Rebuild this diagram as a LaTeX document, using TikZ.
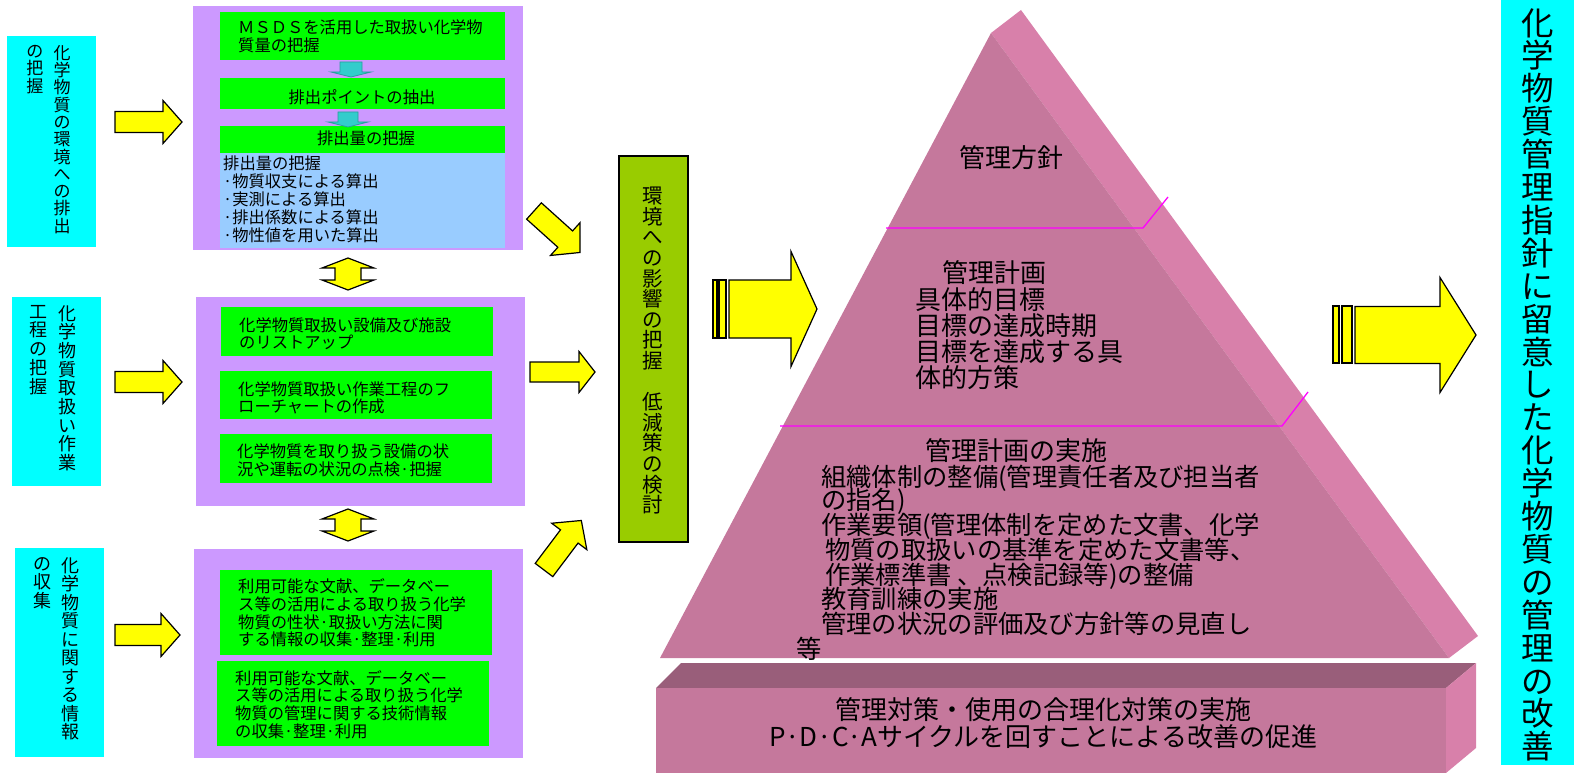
\documentclass[tikz,border=0pt]{standalone}
\usepackage{fontspec}
\setmainfont{Noto Sans CJK JP}
\definecolor{cyanbox}{HTML}{00FFFF}
\definecolor{purpbox}{HTML}{CC99FF}
\definecolor{greenbox}{HTML}{00FF00}
\definecolor{bluebox}{HTML}{99CCFF}
\definecolor{olivebox}{HTML}{99CC00}
\definecolor{tealarrow}{HTML}{33CCCC}
\definecolor{tealedge}{HTML}{2A9D9D}
\definecolor{pyrfront}{HTML}{C5789C}
\definecolor{pyrside}{HTML}{D880AA}
\definecolor{basetop}{HTML}{995E7A}
\definecolor{yelarrow}{HTML}{FFFF00}
\definecolor{magline}{HTML}{FF00FF}
\makeatletter
\newcommand\vtext[2]{\vbox{\baselineskip=#1\lineskiplimit=-\maxdimen\lineskip=0pt\relax\vt@loop#2\relax}}
\def\vt@loop#1{\ifx\relax#1\else\hbox to 1em{\hss#1\hss}\expandafter\vt@loop\fi}
\makeatother
\newcommand\blockarrow[8]{%
\begin{scope}[shift={(#2,#3)},rotate=#4]
\draw[#1] (0,-#6) -- ({#5-#8},-#6) -- ({#5-#8},-#7) -- (#5,0) -- ({#5-#8},#7) -- ({#5-#8},#6) -- (0,#6) -- cycle;
\end{scope}}
\tikzset{
  yarrow/.style={fill=yelarrow,draw=black,line width=1.2pt,line join=miter},
  tarrow/.style={fill=tealarrow,draw=tealedge,line width=0.8pt},
  boxfill/.style={inner sep=0pt,outer sep=0pt},
  gtext/.style={inner sep=0pt,align=left,font={\fontsize{16.3}{17.5}\selectfont}},
  ptext/.style={inner sep=0pt,align=left,font={\fontsize{26}{26.3}\selectfont\lineskiplimit=-100pt}},
  vt/.style={inner sep=0pt,anchor=north},
}
\begin{document}
\begin{tikzpicture}[x=1pt,y=-1pt]
\useasboundingbox (0,0) rectangle (1574,773);
% ---------- left cyan boxes
\node[boxfill,fill=cyanbox,minimum width=89pt,minimum height=211pt] (L1) at (51.5,141.5) {};
\node[boxfill,fill=cyanbox,minimum width=89pt,minimum height=189pt] (L2) at (56.5,391.5) {};
\node[boxfill,fill=cyanbox,minimum width=89pt,minimum height=209pt] (L3) at (59.5,652.5) {};
\node[vt,font={\fontsize{17}{17}\selectfont}] (L1a) at (62,45) {\vtext{17.3pt}{化学物質の環境への排出}};
\node[vt,font={\fontsize{17}{17}\selectfont}] (L1b) at (35,45) {\vtext{17.3pt}{の把握}};
\node[vt,font={\fontsize{18}{18}\selectfont}] (L2a) at (67,305) {\vtext{18.7pt}{化学物質取扱い作業}};
\node[vt,font={\fontsize{18}{18}\selectfont}] (L2b) at (38,305) {\vtext{18.7pt}{工程の把握}};
\node[vt,font={\fontsize{18}{18}\selectfont}] (L3a) at (70,557) {\vtext{18.5pt}{化学物質に関する情報}};
\node[vt,font={\fontsize{18}{18}\selectfont}] (L3b) at (42,557) {\vtext{18.5pt}{の収集}};
% left arrows
\blockarrow{yarrow}{115}{122}{0}{67}{10.5}{21.5}{19}
\blockarrow{yarrow}{115}{382}{0}{67}{10.5}{21.5}{19}
\blockarrow{yarrow}{115}{635}{0}{65}{10.5}{21.5}{19}
% ---------- purple boxes
\node[boxfill,fill=purpbox,minimum width=330pt,minimum height=244pt] (P1) at (358,128) {};
\node[boxfill,fill=purpbox,minimum width=329pt,minimum height=209pt] (P2) at (360.5,401.5) {};
\node[boxfill,fill=purpbox,minimum width=329pt,minimum height=209pt] (P3) at (358.5,653.5) {};
% P1 contents
\node[boxfill,fill=greenbox,minimum width=285pt,minimum height=48pt] (G1) at (362.5,36) {};
\node[boxfill,fill=greenbox,minimum width=285pt,minimum height=31pt] (G2) at (362.5,93.5) {};
\node[boxfill,fill=greenbox,minimum width=285pt,minimum height=27pt] (G3) at (362.5,139.5) {};
\node[boxfill,fill=bluebox,minimum width=285pt,minimum height=95pt] (B1) at (362.5,200.5) {};
\node[gtext,anchor=west] (G1t) at (238,36.5) {ＭＳＤＳを活用した取扱い化学物\\質量の把握};
\node[gtext] (G2t) at (362,97) {排出ポイントの抽出};
\node[gtext] (G3t) at (366,138.5) {排出量の把握};
\node[gtext,anchor=west,font={\fontsize{16.3}{18}\selectfont}] (B1t) at (223,199) {排出量の把握\\·物質収支による算出\\·実測による算出\\·排出係数による算出\\·物性値を用いた算出};
\blockarrow{tarrow}{351}{62}{-90}{15}{11}{20}{5}
\blockarrow{tarrow}{348}{112}{-90}{15}{10}{20}{5}
% P2 contents
\node[boxfill,fill=greenbox,minimum width=272pt,minimum height=49pt] (G4) at (357,331.5) {};
\node[boxfill,fill=greenbox,minimum width=272pt,minimum height=48pt] (G5) at (356,395) {};
\node[boxfill,fill=greenbox,minimum width=272pt,minimum height=49pt] (G6) at (356,458.5) {};
\node[gtext,anchor=west] (G4t) at (239,333.5) {化学物質取扱い設備及び施設\\のリストアップ};
\node[gtext,anchor=west] (G5t) at (238,398) {化学物質取扱い作業工程のフ\\ローチャートの作成};
\node[gtext,anchor=west] (G6t) at (237,460.5) {化学物質を取り扱う設備の状\\況や運転の状況の点検·把握};
% P3 contents
\node[boxfill,fill=greenbox,minimum width=272pt,minimum height=85pt] (G7) at (356,612.5) {};
\node[boxfill,fill=greenbox,minimum width=272pt,minimum height=85pt] (G8) at (353,703.5) {};
\node[gtext,anchor=west,font={\fontsize{16.3}{17.7}\selectfont}] (G7t) at (238,613) {利用可能な文献、データベー\\ス等の活用による取り扱う化学\\物質の性状·取扱い方法に関\\する情報の収集·整理·利用};
\node[gtext,anchor=west,font={\fontsize{16.3}{17.7}\selectfont}] (G8t) at (235,704.5) {利用可能な文献、データベー\\ス等の活用による取り扱う化学\\物質の管理に関する技術情報\\の収集·整理·利用};
% double arrows between purple boxes
\draw[yarrow] (348,258) -- (374,268) -- (361,268) -- (361,280) -- (374,280) -- (348,290) -- (322,280) -- (335,280) -- (335,268) -- (322,268) -- cycle;
\draw[yarrow] (348,509) -- (374,519) -- (361,519) -- (361,531) -- (374,531) -- (348,541) -- (322,531) -- (335,531) -- (335,519) -- (322,519) -- cycle;
% ---------- center box
\node[boxfill,fill=olivebox,draw=black,line width=1.2pt,minimum width=69pt,minimum height=386pt] (C) at (653.5,349) {};
\node[vt,font={\fontsize{20.5}{20.5}\selectfont}] (Ct) at (653,187) {\vtext{20.6pt}{環境への影響の把握　低減策の検討}};
\blockarrow{yarrow}{534}{211}{-42}{62}{11}{22}{20}
\blockarrow{yarrow}{530}{372}{0}{65}{10}{20.5}{16}
\blockarrow{yarrow}{544}{570}{53}{62}{11}{22}{20}
% big arrow to pyramid
\draw[yarrow] (713,280) rectangle (717,338);
\draw[yarrow] (719,280) rectangle (726,338);
\blockarrow{yarrow}{729}{309}{0}{88}{29}{57.5}{26}
% ---------- pyramid
\fill[pyrside] (991,33) -- (1021,10) -- (1478,636) -- (1449,658) -- cycle;
\fill[pyrfront] (991,33) -- (660,658) -- (1449,658) -- cycle;
\draw[magline,line width=1.3pt] (886,228) -- (1143,228) -- (1168,197);
\draw[magline,line width=1.3pt] (780,426) -- (1282,426) -- (1308,392);
\fill[basetop] (681,663) -- (1476,663) -- (1446,688) -- (656,688) -- cycle;
\fill[pyrfront] (656,688) rectangle (1446,773);
\fill[pyrside] (1446,688) -- (1476,663) -- (1476,748) -- (1446,773) -- cycle;
\node[ptext] (T1) at (1011,158) {管理方針};
\node[ptext,anchor=west] (T2) at (915,325.5) {\hspace*{27pt}管理計画\\具体的目標\\目標の達成時期\\目標を達成する具\\体的方策};
\node[ptext] (T3) at (1016,451) {管理計画の実施};
\node[ptext,anchor=west,font={\fontsize{25.3}{24.8}\selectfont}] (T4a) at (821,478) {組織体制の整備(管理責任者及び担当者};
\node[ptext,anchor=west,font={\fontsize{25.3}{24.8}\selectfont\lineskiplimit=-100pt}] (T4b) at (796,574.5) {\hspace*{25pt}の指名)\\\hspace*{25pt}作業要領(管理体制を定めた文書、化学\\\hspace*{29pt}物質の取扱いの基準を定めた文書等、\\\hspace*{29pt}作業標準書 、点検記録等)の整備\\\hspace*{25pt}教育訓練の実施\\\hspace*{25pt}管理の状況の評価及び方針等の見直し\\等};
\node[ptext,align=center,font={\fontsize{26}{27}\selectfont\lineskiplimit=-100pt}] (T5) at (1043,723.5) {管理対策・使用の合理化対策の実施\\P·D·C·Aサイクルを回すことによる改善の促進};
% ---------- right arrow and box
\draw[yarrow] (1333,306) rectangle (1339,363);
\draw[yarrow] (1342,306) rectangle (1352,363);
\blockarrow{yarrow}{1355}{335}{0}{121}{28.5}{57.5}{36}
\node[boxfill,fill=cyanbox,minimum width=73pt,minimum height=765pt] (R) at (1537.5,382.5) {};
\node[vt,font={\fontsize{32.5}{32.5}\selectfont}] (Rt) at (1537.5,8) {\vtext{32.9pt}{化学物質管理指針に留意した化学物質の管理の改善}};
\end{tikzpicture}
\end{document}
